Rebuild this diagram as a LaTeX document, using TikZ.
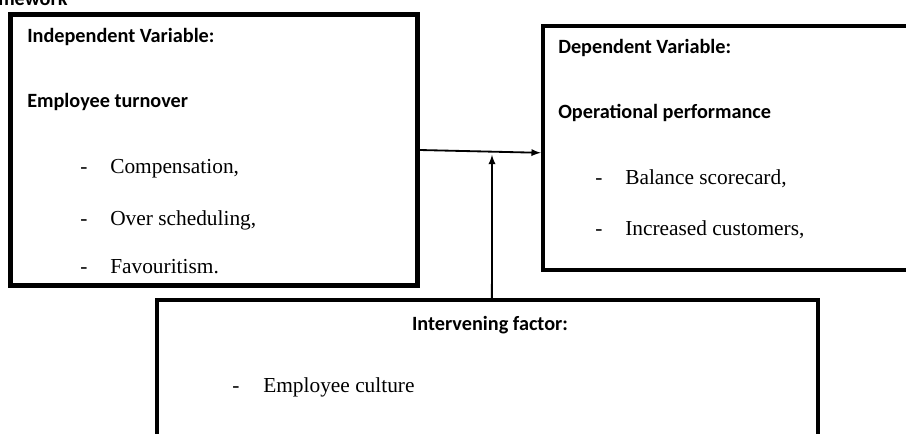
\documentclass[tikz,border=0pt]{standalone}
\usepackage{fontspec}
\setmainfont{Liberation Serif}
\newfontfamily\headfont{Carlito}
\usepackage{tikz}

\begin{document}
\begin{tikzpicture}[
    box/.style={rectangle, draw, line width=3pt, inner sep=0pt},
    head/.style={anchor=base west, inner sep=0pt, font=\headfont\bfseries\fontsize{14.4}{17}\selectfont},
    item/.style={anchor=base west, inner sep=0pt, font=\fontsize{15.2}{18}\selectfont},
    arrow/.style={->, >=latex, line width=1.3pt}
]
    \useasboundingbox (0,0) rectangle (22.65,-10.85);

    % Cut-off title
    \node[head] (title) at (-0.05,-0.13) {mework};

    % Boxes
    \node[box, minimum width=10.175cm, minimum height=6.775cm] (indep) at (5.35,-3.75) {};
    \node[box, minimum width=9.675cm, minimum height=6.1cm] (dep) at (18.4125,-3.7) {};
    \node[box, minimum width=16.525cm, minimum height=4.25cm] (interv) at (12.1875,-9.625) {};

    % Independent variable
    \node[head] (indtitle) at (0.675,-1.05) {Independent Variable:};
    \node[head] (indname) at (0.675,-2.675) {Employee turnover};
    \node[item] (comp) at (2.0,-4.325) {\makebox[0.75cm][l]{-}Compensation,};
    \node[item] (sched) at (2.0,-5.625) {\makebox[0.75cm][l]{-}Over scheduling,};
    \node[item] (fav) at (2.0,-6.825) {\makebox[0.75cm][l]{-}Favouritism.};

    % Dependent variable
    \node[head] (deptitle) at (13.95,-1.325) {Dependent Variable:};
    \node[head] (depname) at (13.95,-2.95) {Operational performance};
    \node[item] (score) at (14.875,-4.6) {\makebox[0.75cm][l]{-}Balance scorecard,};
    \node[item] (cust) at (14.875,-5.875) {\makebox[0.75cm][l]{-}Increased customers,};

    % Intervening factor
    \node[head, anchor=base] (inttitle) at (12.25,-8.25) {Intervening factor:};
    \node[item] (culture) at (5.8,-9.8) {\makebox[0.775cm][l]{-}Employee culture};

    % Arrows
    \coordinate (join) at (12.3,-3.87);
    \draw[arrow] (indep.east) -- ([yshift=-0.12cm]dep.west);
    \draw[arrow] ([xshift=0.11cm]interv.north) -- (join);
\end{tikzpicture}
\end{document}
